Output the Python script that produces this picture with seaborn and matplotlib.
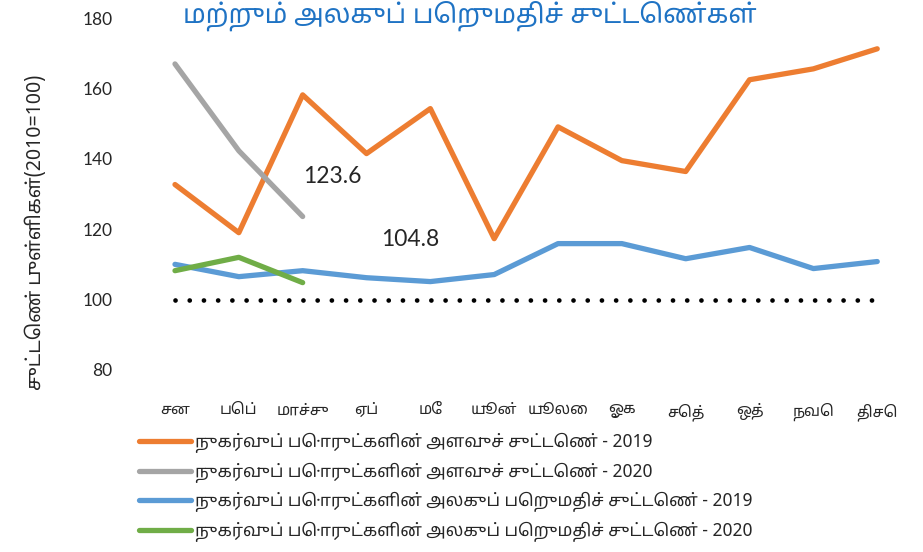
import pandas as pd
import matplotlib
matplotlib.use("Agg")
import matplotlib.pyplot as plt
import seaborn as sns

months = ['சன', 'பெப்', 'மாச்சு', 'ஏப்', 'மே', 'யூன்', 'யூலை', 'ஓக', 'செத்', 'ஒத்', 'நவெ', 'திசெ']
volume_2019 = [132.7, 119.0, 158.2, 141.5, 154.3, 117.3, 149.1, 139.5, 136.4, 162.5, 165.6, 171.3]
volume_2020 = [167.0, 142.3, 123.6]
unit_value_2019 = [110.0, 106.5, 108.2, 106.2, 105.1, 107.1, 115.9, 115.9, 111.6, 114.8, 108.8, 110.8]
unit_value_2020 = [108.2, 112.0, 104.8]
baseline = [100] * 12

labels = ['நுகர்வுப் பொருட்களின் அளவுச் சுட்டெண் - 2019',
          'நுகர்வுப் பொருட்களின் அளவுச் சுட்டெண் - 2020',
          'நுகர்வுப் பொருட்களின் அலகுப் பெறுமதிச் சுட்டெண் - 2019',
          'நுகர்வுப் பொருட்களின் அலகுப் பெறுமதிச் சுட்டெண் - 2020']
colors = ['#ED7D31', '#A5A5A5', '#5B9BD5', '#70AD47']

sns.set_theme(style='white')
tamil = ['Noto Sans Tamil', 'Lohit Tamil', 'Noto Sans', 'DejaVu Sans']
plt.rcParams['font.family'] = tamil

rows = []
for lab, vals in zip(labels, [volume_2019, volume_2020, unit_value_2019, unit_value_2020]):
    for i, v in enumerate(vals):
        rows.append({'month': i, 'value': v, 'series': lab})
df = pd.DataFrame(rows)

fig = plt.figure(figsize=(9.23, 5.52), dpi=100)
ax = fig.add_axes([0.155, 0.330, 0.830, 0.637])

sns.lineplot(data=df, x='month', y='value', hue='series', hue_order=labels,
             palette=colors, linewidth=3.8, ax=ax, legend=True)
sns.lineplot(x=list(range(12)), y=baseline, color='black', linewidth=3.4,
             linestyle=(0, (0.01, 3.0)), dash_capstyle='round', ax=ax)

ax.text(2.46, 134.9, '123.6', fontsize=16.5, family=['Lato', 'DejaVu Sans'], ha='center', va='center')
ax.text(3.68, 117.0, '104.8', fontsize=16.5, family=['Lato', 'DejaVu Sans'], ha='center', va='center')

ax.set_xlim(-0.5, 11.5)
ax.set_ylim(80, 180)
ax.set_yticks(range(80, 181, 20))
ax.set_xticks(range(12))
ax.set_xticklabels(months, fontsize=11)
for t in ax.get_yticklabels():
    t.set_family(['Lato', 'DejaVu Sans'])
    t.set_fontsize(12.5)
ax.tick_params(axis='x', pad=24, length=0)
ax.tick_params(axis='y', pad=22, length=0)
ax.set_xlabel('')
ax.set_ylabel('')
for s in ax.spines.values():
    s.set_visible(False)

fig.text(0.038, 0.58, 'சுட்டெண் புள்ளிகள்(2010=100)', rotation=90, fontsize=14,
         ha='center', va='center')
fig.text(0.509, 0.998, 'மற்றும் அலகுப் பெறுமதிச் சுட்டெண்கள்', fontsize=19,
         fontweight='bold', color='#1F73C4', ha='center', va='top')

handles, _ = ax.get_legend_handles_labels()
ax.legend(handles=handles[:4], labels=labels, loc='upper left',
          bbox_to_anchor=(0.143, 0.228), bbox_transform=fig.transFigure,
          frameon=False, fontsize=12.5, handlelength=3.0, handletextpad=0.25,
          labelspacing=0.55, borderaxespad=0)

fig.savefig('out.png', dpi=100)
